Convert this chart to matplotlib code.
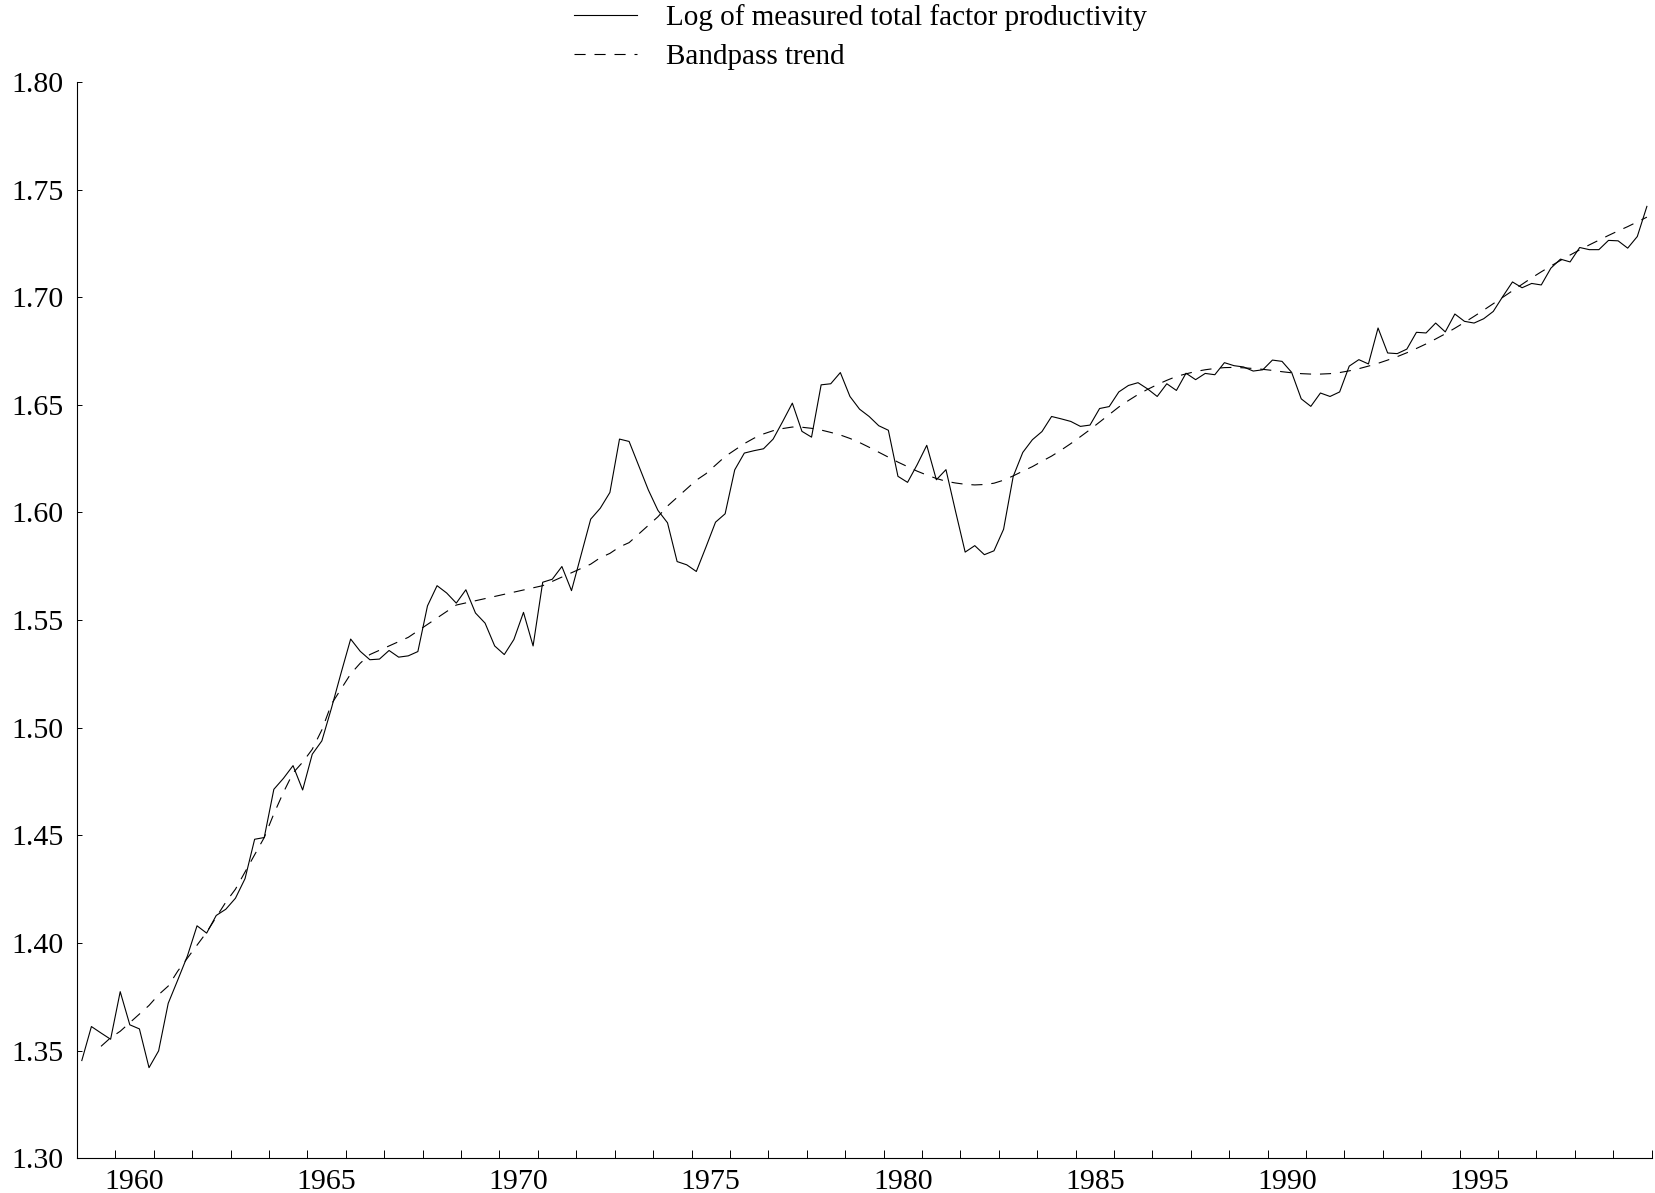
import numpy as np
import matplotlib
matplotlib.use('Agg')
from matplotlib import pyplot as plt

plt.rcParams['font.family'] = ['Liberation Serif', 'DejaVu Serif']

# quarterly data, 1959Q1 - 1999Q4
start_year = 1959

tfp = np.array([
    1.3454, 1.3612, 1.3582, 1.3553, 1.3774, 1.3620, 1.3601, 1.3421,
    1.3499, 1.3720, 1.3829, 1.3940, 1.4080, 1.4046, 1.4128, 1.4157,
    1.4208, 1.4299, 1.4482, 1.4490, 1.4714, 1.4765, 1.4824, 1.4711,
    1.4877, 1.4939, 1.5091, 1.5254, 1.5412, 1.5355, 1.5316, 1.5319,
    1.5359, 1.5328, 1.5334, 1.5354, 1.5566, 1.5660, 1.5626, 1.5579,
    1.5641, 1.5533, 1.5486, 1.5380, 1.5340, 1.5410, 1.5536, 1.5380,
    1.5676, 1.5690, 1.5749, 1.5637, 1.5803, 1.5969, 1.6020, 1.6093,
    1.6341, 1.6330, 1.6217, 1.6105, 1.6010, 1.5952, 1.5772, 1.5757,
    1.5726, 1.5839, 1.5955, 1.5994, 1.6198, 1.6276, 1.6287, 1.6296,
    1.6341, 1.6423, 1.6508, 1.6377, 1.6350, 1.6593, 1.6598, 1.6650,
    1.6539, 1.6480, 1.6446, 1.6403, 1.6382, 1.6168, 1.6140, 1.6222,
    1.6312, 1.6152, 1.6199, 1.6005, 1.5816, 1.5846, 1.5804, 1.5822,
    1.5922, 1.6167, 1.6279, 1.6338, 1.6376, 1.6446, 1.6435, 1.6423,
    1.6400, 1.6406, 1.6483, 1.6492, 1.6560, 1.6590, 1.6603, 1.6574,
    1.6539, 1.6598, 1.6567, 1.6647, 1.6617, 1.6646, 1.6640, 1.6696,
    1.6682, 1.6676, 1.6657, 1.6663, 1.6708, 1.6702, 1.6651, 1.6528,
    1.6493, 1.6555, 1.6539, 1.6560, 1.6680, 1.6710, 1.6690, 1.6857,
    1.6741, 1.6738, 1.6759, 1.6837, 1.6834, 1.6880, 1.6839, 1.6922,
    1.6888, 1.6880, 1.6900, 1.6934, 1.7004, 1.7071, 1.7044, 1.7064,
    1.7057, 1.7135, 1.7177, 1.7164, 1.7231, 1.7221, 1.7221, 1.7264,
    1.7262, 1.7228, 1.7282, 1.7422,
])

# bandpass trend starts at 1959Q3
trend_offset = 2
trend = np.array([
    1.352, 1.356, 1.359, 1.363, 1.367, 1.371, 1.376, 1.380,
    1.387, 1.393, 1.399, 1.405, 1.412, 1.419, 1.425, 1.433,
    1.441, 1.449, 1.460, 1.470, 1.479, 1.484, 1.490, 1.499,
    1.511, 1.518, 1.525, 1.530, 1.534, 1.536, 1.538, 1.540,
    1.542, 1.545, 1.548, 1.551, 1.554, 1.557, 1.558, 1.559,
    1.560, 1.561, 1.562, 1.563, 1.564, 1.565, 1.566, 1.568,
    1.570, 1.572, 1.574, 1.576, 1.579, 1.581, 1.584, 1.586,
    1.590, 1.594, 1.598, 1.603, 1.607, 1.611, 1.615, 1.618,
    1.622, 1.626, 1.629, 1.632, 1.6345, 1.6365, 1.638, 1.639,
    1.6397, 1.6396, 1.6391, 1.6383, 1.6372, 1.636, 1.6344, 1.6325,
    1.6303, 1.628, 1.6257, 1.6234, 1.6213, 1.6192, 1.6174, 1.6158,
    1.6145, 1.6137, 1.6131, 1.6128, 1.6130, 1.6136, 1.6150, 1.6170,
    1.6192, 1.6213, 1.6238, 1.6262, 1.6290, 1.6320, 1.6352, 1.6385,
    1.6420, 1.6455, 1.6490, 1.6520, 1.6548, 1.6572, 1.6594, 1.6614,
    1.6632, 1.6644, 1.6655, 1.6663, 1.6669, 1.6673, 1.6674, 1.6672,
    1.6669, 1.6665, 1.6660, 1.6654, 1.6649, 1.6645, 1.6643, 1.6643,
    1.6645, 1.6650, 1.6658, 1.6668, 1.6680, 1.6693, 1.6708, 1.6724,
    1.6742, 1.6762, 1.6783, 1.6806, 1.6830, 1.6856, 1.6883, 1.6911,
    1.6940, 1.6970, 1.7000, 1.7030, 1.7060, 1.7090, 1.7118, 1.7145,
    1.7171, 1.7196, 1.7220, 1.7243, 1.7265, 1.7287, 1.7308, 1.7328,
    1.7350, 1.7372,
])

year_labels = [1960, 1965, 1970, 1975, 1980, 1985, 1990, 1995]
yticks = [1.30, 1.35, 1.40, 1.45, 1.50, 1.55, 1.60, 1.65, 1.70, 1.75, 1.80]

t = start_year + (np.arange(len(tfp)) + 0.5) / 4.0
t_trend = t[trend_offset:trend_offset + len(trend)]

fig = plt.figure(figsize=(16.56, 11.93), dpi=100)
ax = fig.add_axes([0.0465, 0.0291, 0.9509, 0.9022])

line1, = ax.plot(t, tfp, '-', color='black', lw=0.8)
line2, = ax.plot(t_trend, trend, color='black', lw=0.8, dashes=(10, 8))

ax.set_xlim(start_year, start_year + 41)
ax.set_ylim(1.30, 1.80)
ax.set_yticks(yticks)
ax.set_yticklabels(['%.2f' % v for v in yticks])

# tick marks at year boundaries, labels in the middle of the year
ax.set_xticks(np.arange(start_year, start_year + 42))
ax.set_xticklabels([])
ax.set_xticks([y + 0.5 for y in year_labels], minor=True)
ax.set_xticklabels([str(y) for y in year_labels], minor=True)

ax.tick_params(axis='x', which='major', direction='in', length=5.5, width=0.7)
ax.tick_params(axis='x', which='minor', length=0, pad=7.5, labelsize=21.5)
ax.tick_params(axis='y', direction='in', length=3.3, width=0.7, pad=9.5, labelsize=21.5)

ax.spines['top'].set_visible(False)
ax.spines['right'].set_visible(False)
for s in ['left', 'bottom']:
    ax.spines[s].set_linewidth(0.8)

fig.legend([line1, line2],
           ['Log of measured total factor productivity', 'Bandpass trend'],
           loc='upper left', bbox_to_anchor=(574 / 1656, 1 - 4.5 / 1193),
           frameon=False, borderpad=0, borderaxespad=0,
           handlelength=2.15, handletextpad=1.0, labelspacing=0.42,
           fontsize=21)

plt.savefig('out.png', dpi=100)
